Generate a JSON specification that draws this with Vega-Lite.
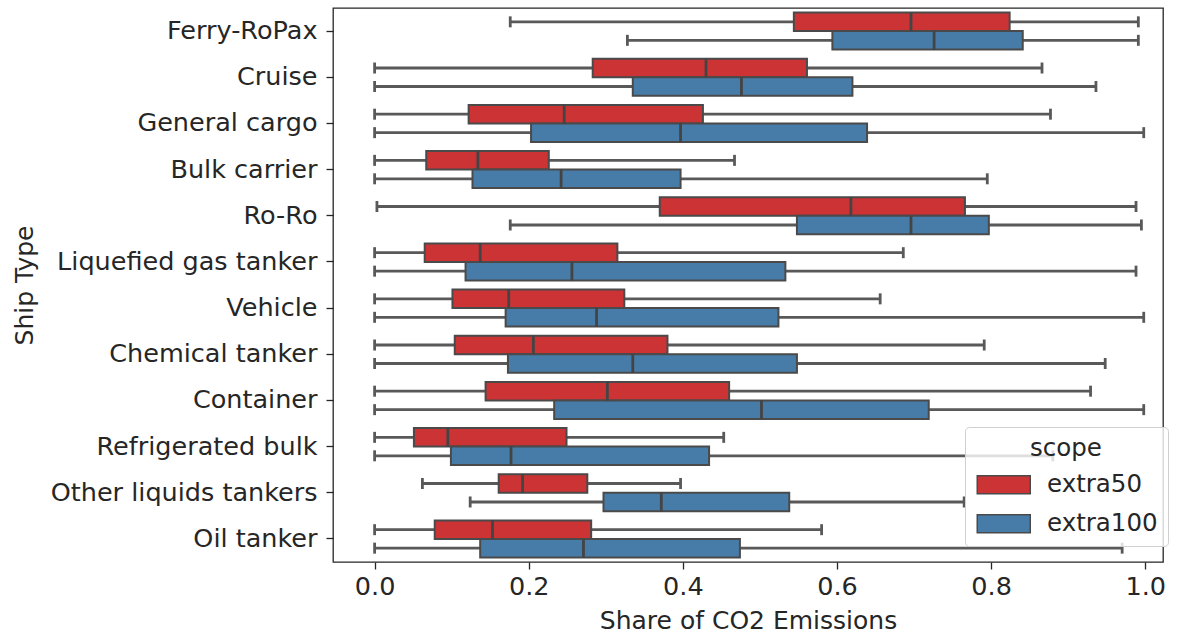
{
  "$schema": "https://vega.github.io/schema/vega-lite/v6.json",
  "width": 830,
  "height": 554,
  "autosize": {"type": "none"},
  "padding": {"left": 333, "top": 8, "right": 15, "bottom": 77},
  "background": "white",
  "config": {
    "font": "DejaVu Sans",
    "view": {"stroke": "#262626", "strokeWidth": 1.3},
    "axis": {
      "domain": false,
      "grid": false,
      "tickColor": "#262626",
      "tickSize": 7,
      "tickWidth": 1.3,
      "labelFont": "DejaVu Sans",
      "labelFontSize": 25.5,
      "labelColor": "#262626",
      "labelLimit": 500,
      "titleFont": "DejaVu Sans",
      "titleFontSize": 25,
      "titleFontWeight": "normal",
      "titleColor": "#262626"
    },
    "legend": {
      "labelFont": "DejaVu Sans",
      "titleFont": "DejaVu Sans"
    }
  },
  "data": {
    "values": [
      {"ship": "Ferry-RoPax", "scope": "extra50", "min": 0.176, "q1": 0.544, "med": 0.696, "q3": 0.824, "max": 0.991},
      {"ship": "Ferry-RoPax", "scope": "extra100", "min": 0.328, "q1": 0.594, "med": 0.726, "q3": 0.841, "max": 0.991},
      {"ship": "Cruise", "scope": "extra50", "min": 0.0, "q1": 0.283, "med": 0.430, "q3": 0.561, "max": 0.866},
      {"ship": "Cruise", "scope": "extra100", "min": 0.0, "q1": 0.335, "med": 0.476, "q3": 0.620, "max": 0.936},
      {"ship": "General cargo", "scope": "extra50", "min": 0.0, "q1": 0.122, "med": 0.246, "q3": 0.426, "max": 0.877},
      {"ship": "General cargo", "scope": "extra100", "min": 0.0, "q1": 0.203, "med": 0.397, "q3": 0.639, "max": 0.998},
      {"ship": "Bulk carrier", "scope": "extra50", "min": 0.0, "q1": 0.067, "med": 0.134, "q3": 0.226, "max": 0.467},
      {"ship": "Bulk carrier", "scope": "extra100", "min": 0.0, "q1": 0.127, "med": 0.242, "q3": 0.397, "max": 0.795},
      {"ship": "Ro-Ro", "scope": "extra50", "min": 0.003, "q1": 0.370, "med": 0.618, "q3": 0.766, "max": 0.988},
      {"ship": "Ro-Ro", "scope": "extra100", "min": 0.176, "q1": 0.548, "med": 0.696, "q3": 0.797, "max": 0.995},
      {"ship": "Liquefied gas tanker", "scope": "extra50", "min": 0.0, "q1": 0.065, "med": 0.137, "q3": 0.315, "max": 0.686},
      {"ship": "Liquefied gas tanker", "scope": "extra100", "min": 0.0, "q1": 0.118, "med": 0.256, "q3": 0.533, "max": 0.988},
      {"ship": "Vehicle", "scope": "extra50", "min": 0.0, "q1": 0.101, "med": 0.174, "q3": 0.324, "max": 0.656},
      {"ship": "Vehicle", "scope": "extra100", "min": 0.0, "q1": 0.170, "med": 0.288, "q3": 0.524, "max": 0.998},
      {"ship": "Chemical tanker", "scope": "extra50", "min": 0.0, "q1": 0.104, "med": 0.206, "q3": 0.380, "max": 0.791},
      {"ship": "Chemical tanker", "scope": "extra100", "min": 0.0, "q1": 0.173, "med": 0.335, "q3": 0.548, "max": 0.948},
      {"ship": "Container", "scope": "extra50", "min": 0.0, "q1": 0.144, "med": 0.302, "q3": 0.460, "max": 0.929},
      {"ship": "Container", "scope": "extra100", "min": 0.0, "q1": 0.233, "med": 0.502, "q3": 0.719, "max": 0.998},
      {"ship": "Refrigerated bulk", "scope": "extra50", "min": 0.0, "q1": 0.051, "med": 0.095, "q3": 0.249, "max": 0.453},
      {"ship": "Refrigerated bulk", "scope": "extra100", "min": 0.0, "q1": 0.099, "med": 0.177, "q3": 0.434, "max": 0.88},
      {"ship": "Other liquids tankers", "scope": "extra50", "min": 0.062, "q1": 0.161, "med": 0.192, "q3": 0.276, "max": 0.397},
      {"ship": "Other liquids tankers", "scope": "extra100", "min": 0.124, "q1": 0.297, "med": 0.372, "q3": 0.538, "max": 0.765},
      {"ship": "Oil tanker", "scope": "extra50", "min": 0.0, "q1": 0.078, "med": 0.153, "q3": 0.281, "max": 0.580},
      {"ship": "Oil tanker", "scope": "extra100", "min": 0.0, "q1": 0.137, "med": 0.271, "q3": 0.474, "max": 0.970}
    ]
  },
  "encoding": {
    "y": {
      "field": "ship",
      "type": "nominal",
      "sort": null,
      "scale": {"type": "band", "paddingInner": 0.2, "paddingOuter": 0.1},
      "axis": {"title": "Ship Type", "labelPadding": 9, "titleX": -321, "titleY": 277, "titleAngle": -90, "titleAlign": "center", "titleBaseline": "top"}
    },
    "yOffset": {
      "field": "scope",
      "type": "nominal",
      "sort": ["extra50", "extra100"],
      "scale": {"paddingInner": 0, "paddingOuter": 0}
    }
  },
  "layer": [
    {
      "mark": {"type": "rule", "color": "#595959", "strokeWidth": 2.8},
      "encoding": {
        "x": {
          "field": "min",
          "type": "quantitative",
          "scale": {"domain": [-0.054, 1.023], "nice": false, "zero": false},
          "axis": {"title": "Share of CO2 Emissions", "values": [0, 0.2, 0.4, 0.6, 0.8, 1.0], "format": ".1f", "labelPadding": 5, "titlePadding": 9}
        },
        "x2": {"field": "max"}
      }
    },
    {
      "mark": {"type": "tick", "color": "#595959", "size": 11, "thickness": 2.8, "opacity": 1},
      "encoding": {"x": {"field": "min", "type": "quantitative"}}
    },
    {
      "mark": {"type": "tick", "color": "#595959", "size": 11, "thickness": 2.8, "opacity": 1},
      "encoding": {"x": {"field": "max", "type": "quantitative"}}
    },
    {
      "mark": {"type": "bar", "stroke": "#4a4a4a", "strokeWidth": 2, "opacity": 1},
      "encoding": {
        "x": {"field": "q1", "type": "quantitative"},
        "x2": {"field": "q3"},
        "color": {
          "field": "scope",
          "type": "nominal",
          "scale": {"domain": ["extra50", "extra100"], "range": ["#cb3335", "#477ca8"]},
          "legend": {
            "title": "scope",
            "orient": "none",
            "legendX": 632,
            "legendY": 419,
            "padding": 10,
            "fillColor": "rgba(255,255,255,0.8)",
            "strokeColor": "#d0d0d0",
            "cornerRadius": 4,
            "titleFontSize": 24.5,
            "titleFontWeight": "normal",
            "titleColor": "#262626",
            "titleAnchor": "middle",
            "titlePadding": 11,
            "labelFontSize": 24.5,
            "labelColor": "#262626",
            "labelOffset": 31,
            "symbolOffset": 16.5,
            "rowPadding": 13,
            "symbolType": "M-2.65,-0.9H2.65V0.9H-2.65Z",
            "symbolSize": 400,
            "symbolStrokeColor": "#4a4a4a",
            "symbolStrokeWidth": 1.5,
            "symbolOpacity": 1
          }
        }
      }
    },
    {
      "mark": {"type": "tick", "color": "#444444", "size": 19, "thickness": 2.8, "opacity": 1},
      "encoding": {"x": {"field": "med", "type": "quantitative"}}
    }
  ]
}
